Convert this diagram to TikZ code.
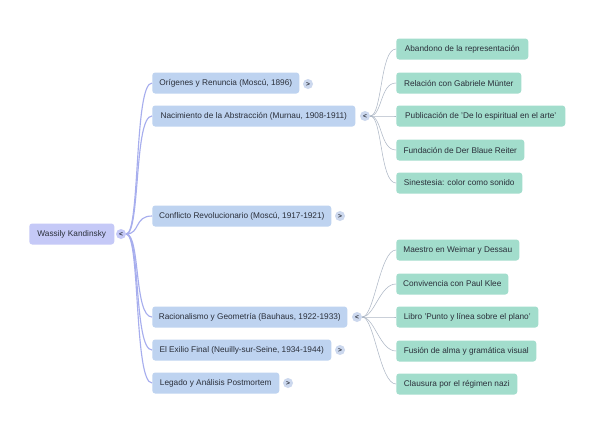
\documentclass[tikz,border=0pt]{standalone}
\usepackage{fontspec}
\setmainfont{Liberation Sans}
\definecolor{rootfill}{HTML}{C5C9F7}
\definecolor{lonefill}{HTML}{BED3F0}
\definecolor{ltwofill}{HTML}{A2DDCC}
\definecolor{rootline}{HTML}{A7AEEE}
\definecolor{leafline}{HTML}{AEB8C6}
\definecolor{circfill}{HTML}{CCD8EE}
\definecolor{txt}{HTML}{2A2F3A}
\tikzset{
  base/.style={anchor=west, rounded corners=2.2pt, minimum height=21*0.75pt, inner xsep=0pt, inner ysep=0pt, font=\fontsize{6.2}{7}\selectfont, text=txt},
  rootbox/.style={base, fill=rootfill},
  lonebox/.style={base, fill=lonefill},
  ltwobox/.style={base, fill=ltwofill},
  wd/.style={minimum width={#1*0.75pt}},
  toggle/.style={circle, fill=circfill, minimum size=7.5pt, inner sep=0pt, font=\fontsize{5}{5}\selectfont\bfseries, text=txt},
  rlink/.style={draw=rootline, line width=0.85pt},
  llink/.style={draw=leafline, line width=0.4pt},
}
\begin{document}
\begin{tikzpicture}[x=0.75pt,y=-0.75pt]
\path[use as bounding box, fill=white] (0,0) rectangle (592,422);
% root
\node[rootbox, wd=85] (root) at (29,234) {Wassily Kandinsky};
\node[toggle, fill=rootfill] (c0) at (121,234) {<};
% level 1
\node[lonebox, wd=147] (o1) at (152,83) {Orígenes y Renuncia (Moscú, 1896)};
\node[lonebox, wd=203] (o2) at (152,116) {Nacimiento de la Abstracción (Murnau, 1908-1911)};
\node[lonebox, wd=179] (o3) at (152,216) {Conflicto Revolucionario (Moscú, 1917-1921)};
\node[lonebox, wd=195] (o4) at (152,317) {Racionalismo y Geometría (Bauhaus, 1922-1933)};
\node[lonebox, wd=179] (o5) at (152,350) {El Exilio Final (Neuilly-sur-Seine, 1934-1944)};
\node[lonebox, wd=127] (o6) at (152,383) {Legado y Análisis Postmortem};
\node[toggle] (c1) at (308,84) {>};
\node[toggle] (c2) at (365,116) {<};
\node[toggle] (c3) at (340,216) {>};
\node[toggle] (c4) at (357,317) {<};
\node[toggle] (c5) at (340,350) {>};
\node[toggle] (c6) at (288,383) {>};
% level 2
\node[ltwobox, wd=132] (a1) at (396,49) {Abandono de la representación};
\node[ltwobox, wd=125] (a2) at (396,83) {Relación con Gabriele Münter};
\node[ltwobox, wd=169] (a3) at (396,116) {Publicación de 'De lo espiritual en el arte'};
\node[ltwobox, wd=128] (a4) at (396,150) {Fundación de Der Blaue Reiter};
\node[ltwobox, wd=126] (a5) at (396,183) {Sinestesia: color como sonido};
\node[ltwobox, wd=123] (b1) at (396,250) {Maestro en Weimar y Dessau};
\node[ltwobox, wd=112] (b2) at (396,284) {Convivencia con Paul Klee};
\node[ltwobox, wd=142] (b3) at (396,317) {Libro 'Punto y línea sobre el plano'};
\node[ltwobox, wd=140] (b4) at (396,351) {Fusión de alma y gramática visual};
\node[ltwobox, wd=121] (b5) at (396,384) {Clausura por el régimen nazi};
% links
\foreach \t in {o1,o2,o3,o4,o5,o6}
  \draw[rlink] (c0.east) .. controls +(14,0) and +(-18,0) .. (\t.west);
\foreach \t in {a1,a2,a3,a4,a5}
  \draw[llink] (c2.east) .. controls +(12,0) and +(-16,0) .. (\t.west);
\foreach \t in {b1,b2,b3,b4,b5}
  \draw[llink] (c4.east) .. controls +(12,0) and +(-16,0) .. (\t.west);
\end{tikzpicture}
\end{document}
